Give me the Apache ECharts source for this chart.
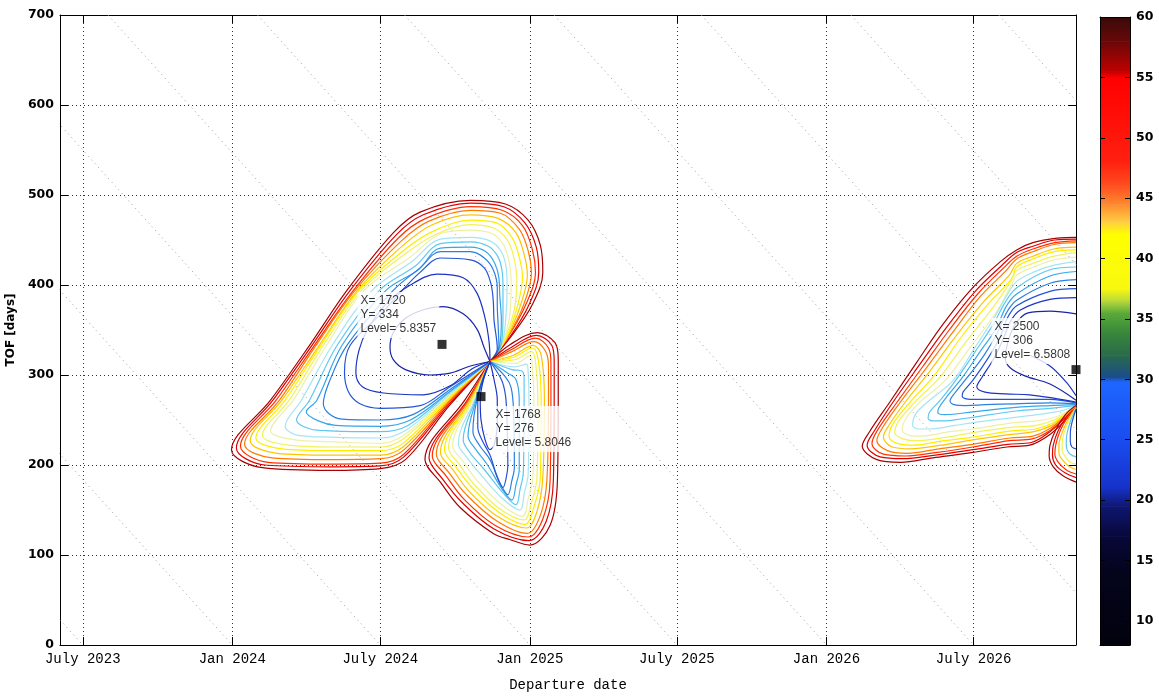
<!DOCTYPE html>
<html><head><meta charset="utf-8">
<script src="https://cdn.jsdelivr.net/npm/echarts@6/dist/echarts.min.js"></script>
<style>html,body{margin:0;padding:0;background:#fff}#c{width:1159px;height:696px}</style>
</head><body><div id="c"></div>
<script>
// Departure day numbers (days since 2019-12-31) and tick labels
const xTickValues = [1278, 1462, 1644, 1828, 2009, 2193, 2374];
const xTickLabels = ['July 2023', 'Jan 2024', 'July 2024', 'Jan 2025', 'July 2025', 'Jan 2026', 'July 2026'];
// Constant arrival-date lines (arrival day numbers)
const arrivalDates = [1278, 1462, 1644, 1828, 2009, 2193, 2374, 2558, 2739, 2923, 3105];
const cbarTicks = [10, 15, 20, 25, 30, 35, 40, 45, 50, 55, 60];

const contourColors = ['#a80000', '#e00000', '#ff3000', '#ff7a00', '#ffc400', '#ffee00', '#f2f25a', '#eef0a8',
  '#a6e4f2', '#5ec8f0', '#36a6ea', '#2b7fe0', '#2454d6', '#1d34c2', '#1a24a8'];

// Lobe A (upper-left wing) contours [departure day, TOF days]
const lobeA = [
  [[1779,315],[1730,267],[1675,206],[1644,196],[1582,194],[1499,197],[1461,217],[1509,272],[1557,333],[1603,394],[1660,458],[1693,481],[1755,494],[1798,490],[1826,472],[1841,444],[1844,414],[1831,378],[1806,344],[1779,315]],
  [[1779,315],[1730,269],[1673,209],[1644,199],[1582,198],[1502,200],[1467,219],[1512,272],[1560,333],[1607,394],[1664,456],[1697,478],[1755,491],[1796,487],[1822,469],[1836,442],[1839,414],[1827,378],[1804,343],[1779,315]],
  [[1779,315],[1730,271],[1673,212],[1644,202],[1582,201],[1506,203],[1472,221],[1516,272],[1563,333],[1611,394],[1666,452],[1700,474],[1755,487],[1794,483],[1819,466],[1831,440],[1835,414],[1823,378],[1801,342],[1779,315]],
  [[1779,315],[1730,272],[1672,216],[1644,207],[1582,206],[1511,208],[1477,223],[1520,272],[1565,333],[1613,394],[1670,449],[1704,471],[1755,483],[1791,480],[1815,462],[1826,438],[1830,413],[1820,377],[1800,341],[1779,315]],
  [[1779,315],[1730,274],[1672,220],[1644,211],[1582,211],[1517,213],[1484,227],[1523,272],[1569,333],[1616,394],[1672,444],[1708,467],[1755,478],[1789,474],[1811,458],[1821,434],[1825,411],[1816,376],[1799,340],[1779,315]],
  [[1779,315],[1730,276],[1672,224],[1644,216],[1582,216],[1523,218],[1491,230],[1527,272],[1571,333],[1618,394],[1675,440],[1712,461],[1755,472],[1787,469],[1806,453],[1815,431],[1819,409],[1812,374],[1798,339],[1779,315]],
  [[1779,315],[1730,277],[1672,229],[1644,220],[1582,220],[1531,222],[1499,233],[1532,272],[1574,333],[1621,394],[1677,436],[1714,457],[1755,467],[1784,463],[1801,449],[1809,428],[1812,407],[1809,373],[1796,338],[1779,315]],
  [[1779,315],[1730,278],[1673,233],[1644,224],[1582,226],[1539,228],[1509,238],[1537,272],[1578,333],[1624,394],[1681,431],[1718,457],[1755,461],[1782,457],[1796,444],[1803,424],[1805,404],[1804,372],[1795,337],[1779,315]],
  [[1779,315],[1730,279],[1676,239],[1644,230],[1582,231],[1543,233],[1527,243],[1547,272],[1585,333],[1634,394],[1683,426],[1718,451],[1755,453],[1779,449],[1793,437],[1799,419],[1800,400],[1799,370],[1794,336],[1779,315]],
  [[1779,315],[1730,281],[1678,244],[1644,237],[1582,238],[1558,240],[1541,250],[1557,272],[1591,333],[1643,394],[1687,421],[1718,446],[1755,448],[1777,443],[1789,431],[1794,415],[1795,397],[1795,367],[1793,334],[1779,315]],
  [[1779,315],[1730,282],[1681,250],[1644,243],[1589,244],[1568,249],[1553,259],[1566,272],[1597,333],[1651,394],[1691,417],[1718,441],[1755,442],[1774,437],[1785,424],[1790,408],[1791,389],[1793,361],[1791,333],[1779,315]],
  [[1779,315],[1730,284],[1684,256],[1644,250],[1597,251],[1581,257],[1574,268],[1582,294],[1603,333],[1660,394],[1693,419],[1718,437],[1755,437],[1772,430],[1783,417],[1788,397],[1788,378],[1789,356],[1790,331],[1779,315]],
  [[1779,315],[1730,287],[1693,266],[1644,263],[1619,268],[1605,281],[1600,303],[1607,333],[1644,367],[1671,394],[1693,414],[1718,430],[1755,428],[1772,419],[1780,402],[1783,383],[1784,361],[1788,329],[1779,315]],
  [[1779,315],[1757,307],[1730,288],[1697,278],[1648,280],[1622,287],[1614,303],[1618,328],[1628,350],[1650,378],[1681,400],[1714,412],[1746,408],[1763,391],[1773,363],[1778,336],[1779,315]],
  [[1779,315],[1755,310],[1730,302],[1705,300],[1675,306],[1660,317],[1656,331],[1660,347],[1675,363],[1699,373],[1721,376],[1746,368],[1763,351],[1772,330],[1779,315]]
];
const lobeAColor = [0,1,2,3,4,5,6,7,8,9,10,11,12,13,14];

// Lobe B (lower wing) contours
const lobeB = [
  [[1779,315],[1804,334],[1837,347],[1859,336],[1863,317],[1863,272],[1862,183],[1853,133],[1828,111],[1804,117],[1783,124],[1742,153],[1718,181],[1699,206],[1748,272],[1779,315]],
  [[1779,315],[1804,330],[1836,344],[1855,333],[1858,315],[1858,272],[1857,183],[1848,137],[1827,116],[1784,129],[1745,158],[1721,184],[1704,208],[1751,272],[1779,315]],
  [[1779,315],[1805,328],[1835,341],[1851,330],[1854,313],[1854,272],[1853,183],[1844,140],[1826,120],[1785,133],[1747,162],[1725,188],[1708,210],[1752,272],[1779,315]],
  [[1779,315],[1806,326],[1833,337],[1847,327],[1851,310],[1851,272],[1849,183],[1841,144],[1825,124],[1787,138],[1750,167],[1729,191],[1713,212],[1753,272],[1779,315]],
  [[1779,315],[1808,322],[1832,333],[1842,322],[1846,272],[1844,186],[1837,149],[1824,130],[1788,143],[1753,171],[1734,194],[1718,214],[1755,272],[1779,315]],
  [[1779,315],[1809,320],[1831,330],[1838,319],[1842,272],[1841,187],[1833,153],[1822,134],[1789,148],[1756,176],[1737,198],[1723,217],[1756,272],[1779,315]],
  [[1779,315],[1810,317],[1830,326],[1835,315],[1838,272],[1837,188],[1830,158],[1821,139],[1790,152],[1758,180],[1741,201],[1728,219],[1757,272],[1779,315]],
  [[1779,315],[1810,313],[1828,321],[1831,310],[1833,272],[1832,189],[1826,162],[1819,143],[1792,157],[1762,184],[1745,205],[1733,221],[1758,272],[1779,315]],
  [[1779,315],[1809,309],[1824,312],[1826,303],[1827,270],[1826,190],[1821,168],[1816,150],[1794,163],[1767,190],[1750,209],[1740,224],[1760,272],[1779,315]],
  [[1779,315],[1806,306],[1819,304],[1821,295],[1821,267],[1820,192],[1816,173],[1811,156],[1795,169],[1772,195],[1755,213],[1746,228],[1761,272],[1779,315]],
  [[1779,315],[1801,302],[1811,295],[1815,272],[1815,195],[1811,178],[1806,161],[1794,173],[1776,200],[1761,218],[1752,232],[1762,272],[1779,315]],
  [[1779,315],[1798,298],[1805,286],[1808,261],[1809,197],[1806,183],[1801,167],[1792,179],[1779,206],[1766,222],[1758,237],[1763,272],[1779,315]],
  [[1779,315],[1793,295],[1798,278],[1800,250],[1801,200],[1799,186],[1795,175],[1788,186],[1779,211],[1769,228],[1764,242],[1764,272],[1779,315]],
  [[1779,315],[1784,295],[1788,272],[1788,245],[1784,222],[1779,217],[1773,228],[1768,250],[1767,272],[1771,295],[1779,315]]
];
const lobeBColor = [0,1,2,3,4,5,6,7,8,9,10,11,12,13];

// Lobe C (right upper wing, cut at the last departure date)
const lobeC = [
  [[2500,453],[2477,452],[2447,447],[2427,439],[2407,426],[2373,397],[2336,356],[2304,314],[2271,270],[2246,237],[2237,221],[2255,206],[2284,203],[2324,208],[2373,214],[2415,220],[2443,222],[2468,234],[2487,250],[2500,264]],
  [[2500,451],[2474,450],[2447,443],[2427,436],[2409,422],[2376,393],[2340,352],[2308,312],[2275,270],[2252,238],[2243,222],[2259,209],[2287,207],[2327,211],[2373,217],[2416,223],[2445,225],[2468,237],[2485,251],[2500,264]],
  [[2500,449],[2474,447],[2447,440],[2427,432],[2411,419],[2379,390],[2344,350],[2312,310],[2280,270],[2256,239],[2249,224],[2263,212],[2290,210],[2329,214],[2373,220],[2418,227],[2446,229],[2469,239],[2485,252],[2500,264]],
  [[2500,447],[2473,445],[2447,437],[2427,429],[2414,416],[2382,387],[2348,347],[2316,308],[2284,270],[2261,240],[2255,227],[2268,216],[2292,213],[2332,218],[2373,223],[2419,230],[2447,232],[2469,241],[2485,253],[2500,264]],
  [[2500,442],[2473,440],[2447,432],[2427,424],[2418,411],[2387,382],[2352,343],[2320,304],[2290,270],[2269,243],[2263,231],[2274,220],[2296,218],[2334,222],[2373,228],[2420,234],[2448,237],[2470,244],[2487,256],[2500,266]],
  [[2500,439],[2473,437],[2447,429],[2427,420],[2421,407],[2392,379],[2357,340],[2327,301],[2296,270],[2275,246],[2270,232],[2280,224],[2300,222],[2338,227],[2373,231],[2421,238],[2450,240],[2472,247],[2487,257],[2500,266]],
  [[2500,436],[2473,432],[2447,424],[2427,416],[2419,403],[2397,374],[2364,336],[2333,298],[2302,270],[2282,249],[2277,236],[2287,229],[2304,227],[2341,231],[2373,236],[2423,242],[2451,244],[2473,250],[2488,258],[2500,266]],
  [[2500,431],[2473,428],[2448,420],[2427,411],[2421,401],[2402,370],[2370,331],[2339,294],[2308,270],[2291,252],[2286,239],[2295,233],[2309,232],[2345,237],[2373,240],[2424,247],[2452,249],[2474,253],[2488,259],[2500,266]],
  [[2500,426],[2473,422],[2447,414],[2427,404],[2416,390],[2399,363],[2376,331],[2349,294],[2320,272],[2303,257],[2299,244],[2307,240],[2320,240],[2351,244],[2373,247],[2425,253],[2453,256],[2475,259],[2489,262],[2500,267]],
  [[2500,420],[2468,417],[2427,397],[2413,381],[2398,356],[2376,326],[2352,294],[2333,272],[2320,259],[2318,252],[2324,249],[2339,249],[2357,251],[2373,253],[2426,260],[2468,263],[2500,266]],
  [[2500,415],[2468,410],[2427,390],[2414,376],[2402,352],[2382,326],[2360,297],[2342,277],[2331,263],[2330,258],[2339,256],[2373,259],[2426,264],[2468,266],[2500,267]],
  [[2500,406],[2468,402],[2427,383],[2415,370],[2404,348],[2387,322],[2366,297],[2351,280],[2345,271],[2350,267],[2364,266],[2388,267],[2426,268],[2468,269],[2500,268]],
  [[2500,396],[2468,393],[2427,377],[2416,364],[2407,343],[2392,319],[2373,294],[2361,281],[2360,276],[2370,273],[2394,273],[2431,273],[2468,273],[2500,269]],
  [[2500,386],[2468,384],[2431,372],[2419,359],[2410,339],[2398,317],[2384,297],[2378,287],[2388,281],[2413,279],[2443,278],[2474,274],[2500,270]],
  [[2500,368],[2468,371],[2441,369],[2425,356],[2416,336],[2413,319],[2419,308],[2437,299],[2468,290],[2500,272]],
  [[2443,322],[2468,310],[2488,292],[2500,277]]
];
const lobeCColor = [0,1,2,3,4,5,6,7,8,9,10,11,12,13,14,13];

// Lobe D (right lower wing, cut at the last departure date)
const lobeD = [
  [[2500,266],[2487,256],[2475,239],[2468,222],[2467,210],[2472,198],[2484,188],[2500,181]],
  [[2500,264],[2488,253],[2478,238],[2472,222],[2471,211],[2475,200],[2487,191],[2500,186]],
  [[2500,264],[2489,252],[2480,237],[2475,222],[2474,212],[2479,202],[2489,194],[2500,190]],
  [[2500,264],[2490,250],[2483,236],[2479,222],[2479,213],[2483,206],[2491,199],[2500,195]],
  [[2500,263],[2491,249],[2485,235],[2483,223],[2483,216],[2487,209],[2493,203],[2500,201]],
  [[2500,263],[2493,248],[2489,235],[2488,224],[2489,217],[2493,212],[2500,209]],
  [[2500,262],[2495,247],[2493,235],[2493,226],[2495,220],[2500,218]]
];
const lobeDColor = [0,1,2,4,6,9,12];

// Data tips
const tipX = [1720, 1768, 2500];
const tipY = [334, 276, 306];
const tipLevel = ['5.8357', '5.8046', '6.5808'];

// Colour bar (value stops and colours)
const cbarStops = [8, 14, 17, 19.5, 21, 25, 29.8, 30.2, 32, 34, 35.5, 36.5, 37.5, 42, 43, 44.5, 46, 48, 55, 55.5, 58, 60];
const cbarColors = ['#02020e', '#04041c', '#08083a', '#0e1670', '#1632c8', '#1a4cf0', '#1e66ff', '#1a4c8c', '#2a6a4a', '#3a8a3a',
  '#5aaa3a', '#b8d83a', '#f8f810', '#ffff00', '#ffd040', '#ff8a30', '#ff5020', '#ff2010', '#ff0000', '#c00000', '#6a0808', '#3a0a0a'];

const chart = echarts.init(document.getElementById('c'), null, {renderer: 'canvas'});
const series = [];

arrivalDates.forEach(a => {
  series.push({type: 'line', xAxisIndex: 0, yAxisIndex: 0, data: [[a - 700, 700], [a, 0]], symbol: 'none', silent: true,
    lineStyle: {color: '#9a9a9a', width: 1, type: [1, 4]}, z: 1, clip: true});
});

function addLobe(lobe, colorIdx) {
  lobe.forEach((pts, i) => {
    series.push({type: 'line', xAxisIndex: 0, yAxisIndex: 0, data: pts, symbol: 'none', smooth: 0.35, silent: true,
      lineStyle: {color: contourColors[colorIdx[i]], width: 1.2}, z: 3, clip: true});
  });
}
addLobe(lobeA, lobeAColor);
addLobe(lobeB, lobeBColor);
addLobe(lobeC, lobeCColor);
addLobe(lobeD, lobeDColor);

const tipOffsets = [[-80, -48], [16, 14], [-80, -47]];
series.push({
  type: 'scatter', xAxisIndex: 0, yAxisIndex: 0, symbol: 'rect', symbolSize: 9, clip: false, z: 20,
  itemStyle: {color: '#000'},
  data: tipX.map((x, i) => ({
    value: [x, tipY[i]],
    label: {show: true, position: tipOffsets[i],
      formatter: 'X= ' + x + '\nY= ' + tipY[i] + '\nLevel= ' + tipLevel[i],
      fontFamily: 'Liberation Sans', fontSize: 12, lineHeight: 14, color: '#000', align: 'left', verticalAlign: 'top',
      backgroundColor: '#fff', padding: [2, 3, 2, 3]}
  }))
});

const cbarData = [];
for (let i = 0; i < cbarStops.length - 1; i++) cbarData.push([cbarStops[i], cbarStops[i + 1], i]);
series.push({
  type: 'custom', xAxisIndex: 2, yAxisIndex: 2, silent: true, z: 2, data: cbarData,
  encode: {x: -1, y: [0, 1]},
  renderItem: (params, api) => {
    const lo = api.value(0), hi = api.value(1), ci = api.value(2);
    const p0 = api.coord([0, lo]);
    const p1 = api.coord([1, hi]);
    return {type: 'rect', shape: {x: p0[0], y: p1[1], width: p1[0] - p0[0], height: p0[1] - p1[1] + 0.6},
      style: {fill: new echarts.graphic.LinearGradient(0, 1, 0, 0, [
        {offset: 0, color: cbarColors[ci]}, {offset: 1, color: cbarColors[ci + 1]}])}};
  }
});

const black = {color: '#000', width: 1};
const fmtX = v => { const k = xTickValues.indexOf(v); return k >= 0 ? xTickLabels[k] : ''; };

chart.setOption({
  animation: false,
  backgroundColor: '#fff',
  grid: [
    {left: 60, top: 15, right: 83, bottom: 51, outerBoundsMode: 'none', containLabel: false},
    {left: 1100, top: 17, width: 30, bottom: 51, outerBoundsMode: 'none', containLabel: false}
  ],
  xAxis: [
    {type: 'value', gridIndex: 0, min: 1250, max: 2500, position: 'bottom',
      axisLine: {show: true, onZero: false, lineStyle: black},
      axisTick: {show: true, inside: true, length: 8, customValues: xTickValues, lineStyle: black},
      axisLabel: {customValues: xTickValues, formatter: fmtX, fontFamily: 'Liberation Mono', fontSize: 14, color: '#000', margin: 7},
      splitLine: {show: true, lineStyle: {color: '#333', width: 1, type: [1, 3]}},
      name: 'Departure date', nameLocation: 'middle', nameGap: 33,
      nameTextStyle: {fontFamily: 'Liberation Mono', fontSize: 14, color: '#000'}},
    {type: 'value', gridIndex: 0, min: 1250, max: 2500, position: 'top',
      axisLine: {show: true, onZero: false, lineStyle: black},
      axisTick: {show: true, inside: true, length: 8, customValues: xTickValues, lineStyle: black},
      axisLabel: {show: false}, splitLine: {show: false}},
    {type: 'value', gridIndex: 1, min: 0, max: 1, position: 'bottom', z: 5,
      axisLine: {show: true, onZero: false, lineStyle: black}, axisTick: {show: false}, axisLabel: {show: false}, splitLine: {show: false}},
    {type: 'value', gridIndex: 1, min: 0, max: 1, position: 'top', z: 5,
      axisLine: {show: true, onZero: false, lineStyle: black}, axisTick: {show: false}, axisLabel: {show: false}, splitLine: {show: false}}
  ],
  yAxis: [
    {type: 'value', gridIndex: 0, min: 0, max: 700, interval: 100, position: 'left',
      axisLine: {show: true, onZero: false, lineStyle: black},
      axisTick: {show: true, inside: true, length: 8, lineStyle: black},
      axisLabel: {fontFamily: 'DejaVu Sans', fontWeight: 'bold', fontSize: 12.5, color: '#000', margin: 6},
      splitLine: {show: true, lineStyle: {color: '#333', width: 1, type: [1, 3]}},
      name: 'TOF [days]', nameLocation: 'middle', nameGap: 4, nameRotate: 90,
      nameTextStyle: {fontFamily: 'DejaVu Sans', fontWeight: 'bold', fontSize: 12, color: '#000'}},
    {type: 'value', gridIndex: 0, min: 0, max: 700, interval: 100, position: 'right',
      axisLine: {show: true, onZero: false, lineStyle: black},
      axisTick: {show: true, inside: true, length: 8, lineStyle: black},
      axisLabel: {show: false}, splitLine: {show: false}},
    {type: 'value', gridIndex: 1, min: 8, max: 60, position: 'right', z: 5,
      axisLine: {show: true, onZero: false, lineStyle: black},
      axisTick: {show: true, inside: true, length: 5, customValues: cbarTicks, lineStyle: black},
      axisLabel: {customValues: cbarTicks, fontFamily: 'DejaVu Sans', fontWeight: 'bold', fontSize: 12.5, color: '#000', margin: 6},
      splitLine: {show: false}},
    {type: 'value', gridIndex: 1, min: 8, max: 60, position: 'left', z: 5,
      axisLine: {show: true, onZero: false, lineStyle: black},
      axisTick: {show: true, inside: true, length: 5, customValues: cbarTicks, lineStyle: black},
      axisLabel: {show: false}, splitLine: {show: false}}
  ],
  series: series
});
</script>
</body></html>
